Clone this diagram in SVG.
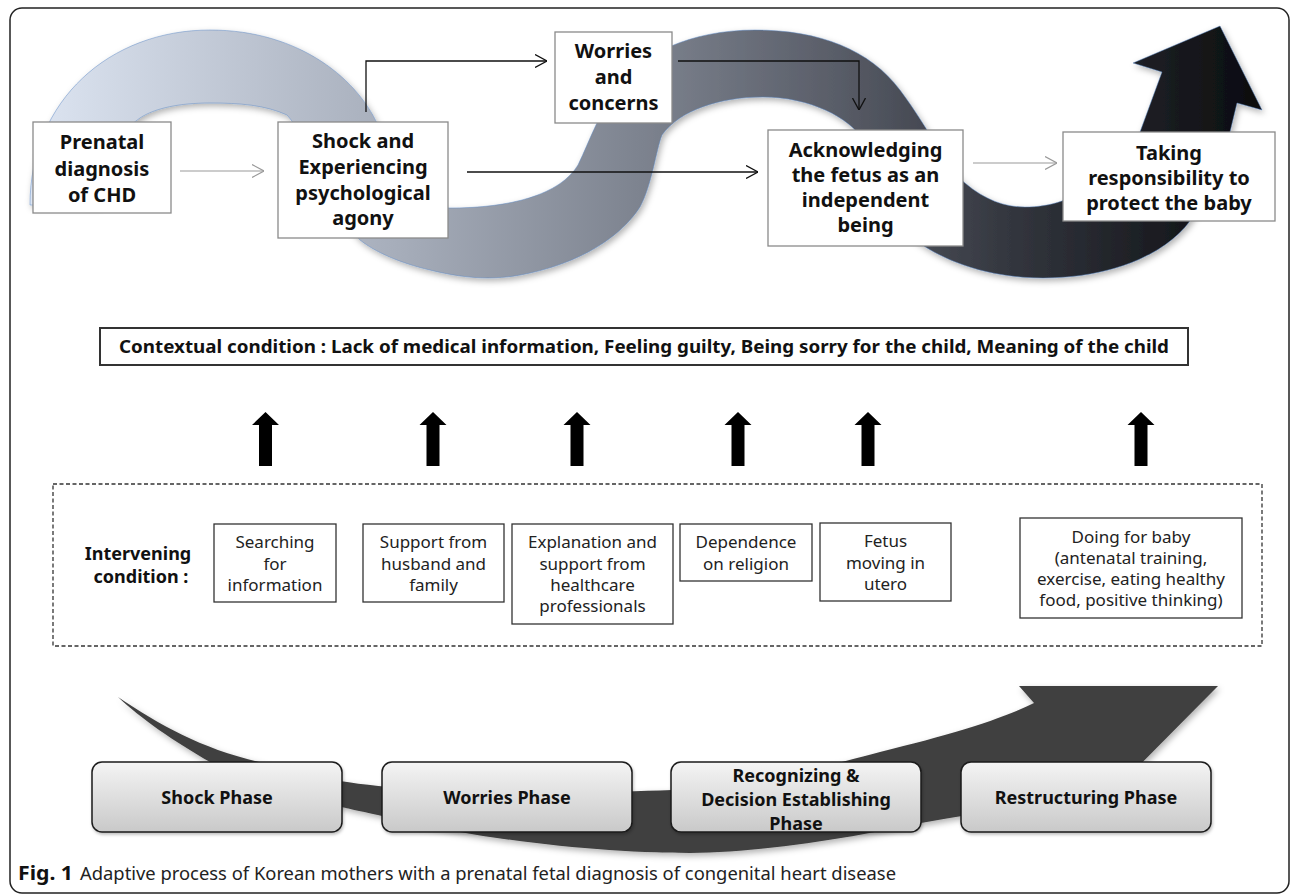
<svg xmlns="http://www.w3.org/2000/svg" width="1292" height="896" viewBox="0 0 1292 896">
<defs>
<style>
.frame{fill:#fff;stroke:#222;stroke-width:1.5}
.tbox{fill:#fff;stroke:#8a8a8a;stroke-width:1.3}
.tt{font-family:"Noto Sans","Liberation Sans",sans-serif;font-weight:bold;font-size:20px;fill:#111;text-anchor:middle}
.ibox{fill:#fff;stroke:#333;stroke-width:1.3}
.it{font-family:"Noto Sans","Liberation Sans",sans-serif;font-size:17px;fill:#222;text-anchor:middle}
.lb{font-family:"Noto Sans","Liberation Sans",sans-serif;font-weight:bold;font-size:18px;fill:#111;text-anchor:middle}
.pbox{fill:url(#pg);stroke:#1a1a1a;stroke-width:1.5}
.pt{font-family:"Noto Sans","Liberation Sans",sans-serif;font-weight:bold;font-size:18px;fill:#111;text-anchor:middle}
.blk{fill:none;stroke:#111;stroke-width:1.3}
.gry{fill:none;stroke:#9a9a9a;stroke-width:1.2}
.up{fill:#000}
</style>
<linearGradient id="rg" gradientUnits="userSpaceOnUse" x1="30" y1="0" x2="1262" y2="0">
<stop offset="0" stop-color="#dde5f2"/>
<stop offset="0.3" stop-color="#a6adba"/>
<stop offset="0.5" stop-color="#7c828e"/>
<stop offset="0.65" stop-color="#5a5e69"/>
<stop offset="0.8" stop-color="#32353d"/>
<stop offset="1" stop-color="#0a0b0e"/>
</linearGradient>
<linearGradient id="pg" x1="0" y1="0" x2="0" y2="1">
<stop offset="0" stop-color="#f4f4f4"/>
<stop offset="1" stop-color="#c9c9c9"/>
</linearGradient>
<filter id="sh" x="-5%" y="-10%" width="110%" height="130%">
<feDropShadow dx="2" dy="3" stdDeviation="3" flood-color="#000" flood-opacity="0.3"/>
</filter>
<filter id="psh" x="-5%" y="-10%" width="110%" height="130%">
<feDropShadow dx="1" dy="2" stdDeviation="1.5" flood-color="#000" flood-opacity="0.25"/>
</filter>
<marker id="ab" viewBox="0 0 12 14" refX="12" refY="7" markerWidth="12" markerHeight="14" markerUnits="userSpaceOnUse" orient="auto">
<path d="M0,0.5 L12,7 L0,13.5" fill="none" stroke="#111" stroke-width="1.3"/>
</marker>
<marker id="ag" viewBox="0 0 12 14" refX="12" refY="7" markerWidth="12" markerHeight="14" markerUnits="userSpaceOnUse" orient="auto">
<path d="M0,0.5 L12,7 L0,13.5" fill="none" stroke="#9a9a9a" stroke-width="1.2"/>
</marker>
</defs>

<rect id="frame" class="frame" x="10" y="8" width="1279" height="885" rx="12"/>

<g id="ribbon">
<path filter="url(#sh)" fill="url(#rg)" stroke="#5a86c5" stroke-width="0.8" stroke-opacity="0.6" d="M30,205 C30,100 110,30 210,30 C300,30 360,80 380,130 C400,180 420,208 450,208 C510,208 560,195 578,165 C590,140 600,110 620,85 C640,55 690,30 755,30 C820,30 870,50 900,90 C930,130 945,165 965,183 C985,200 1005,207 1025,207 C1050,207 1075,200 1095,180 C1110,170 1130,150 1140,132 L1162,72 L1133,63 L1220,26 L1262,110 L1237,103 L1230,132 C1220,170 1205,200 1190,221 C1165,255 1110,278 1043,278 C990,278 945,262 915,240 C885,215 875,165 863,140 C850,118 810,97 763,97 C720,97 680,110 662,135 C656,150 652,185 640,207 C620,238 580,262 530,273 C500,280 470,280 430,270 C400,263 375,252 360,240 C320,200 310,140 287,115 C265,105 240,103 210,103 C180,103 155,108 140,118 C115,135 100,170 100,205 Z"/>
</g>

<g id="bottom-arrow">
<path filter="url(#sh)" fill="#404040" d="M118,697 C160,725 200,748 259,762 C300,775 340,783 400,788 C500,793 600,793 672,790 C760,785 830,765 880,752 C950,735 1000,720 1034,703 L1019,686 L1218,686 L1110,795 C1040,805 980,812 921,823 C860,836 760,853 690,853 C600,853 480,840 382,816 C360,811 350,809 342,807 C280,793 240,778 210,762 C175,742 140,718 118,697 Z"/>
</g>

<g id="connectors">
<line class="gry" x1="180" y1="171" x2="264" y2="171" marker-end="url(#ag)"/>
<polyline class="blk" points="366,112 366,61 547,61" marker-end="url(#ab)"/>
<polyline class="blk" points="678,61 859,61 859,110" marker-end="url(#ab)"/>
<line class="blk" x1="467" y1="172" x2="758" y2="172" marker-end="url(#ab)"/>
<line class="gry" x1="973" y1="163" x2="1057" y2="163" marker-end="url(#ag)"/>
</g>

<g id="n-prenatal">
<rect class="tbox" x="33" y="122" width="138" height="91"/>
<text class="tt" x="102" y="149">Prenatal</text>
<text class="tt" x="102" y="176">diagnosis</text>
<text class="tt" x="102" y="202">of CHD</text>
</g>
<g id="n-shock">
<rect class="tbox" x="278" y="122" width="170" height="116"/>
<text class="tt" x="363" y="148">Shock and</text>
<text class="tt" x="363" y="174">Experiencing</text>
<text class="tt" x="363" y="200">psychological</text>
<text class="tt" x="363" y="225">agony</text>
</g>
<g id="n-worries">
<rect class="tbox" x="555" y="32" width="117" height="91"/>
<text class="tt" x="613.5" y="58">Worries</text>
<text class="tt" x="613.5" y="84">and</text>
<text class="tt" x="613.5" y="110">concerns</text>
</g>
<g id="n-ack">
<rect class="tbox" x="768" y="130" width="195" height="116"/>
<text class="tt" x="865.5" y="157">Acknowledging</text>
<text class="tt" x="865.5" y="182">the fetus as an</text>
<text class="tt" x="865.5" y="207">independent</text>
<text class="tt" x="865.5" y="232">being</text>
</g>
<g id="n-taking">
<rect class="tbox" x="1063" y="132" width="212" height="89"/>
<text class="tt" x="1169" y="160">Taking</text>
<text class="tt" x="1169" y="185">responsibility to</text>
<text class="tt" x="1169" y="210">protect the baby</text>
</g>

<g id="n-context">
<rect x="100" y="328" width="1088" height="37" fill="#fff" stroke="#333" stroke-width="2"/>
<text class="lb" x="644" y="353" font-size="17" textLength="1050" lengthAdjust="spacingAndGlyphs">Contextual condition : Lack of medical information, Feeling guilty, Being sorry for the child, Meaning of the child</text>
</g>

<g id="up-arrows">
<path class="up" d="M265.5,412 L279,425 L272,425 L272,466 L259,466 L259,425 L252,425 Z"/>
<path class="up" d="M433,412 L446.5,425 L439.5,425 L439.5,466 L426.5,466 L426.5,425 L419.5,425 Z"/>
<path class="up" d="M577,412 L590.5,425 L583.5,425 L583.5,466 L570.5,466 L570.5,425 L563.5,425 Z"/>
<path class="up" d="M738,412 L751.5,425 L744.5,425 L744.5,466 L731.5,466 L731.5,425 L724.5,425 Z"/>
<path class="up" d="M868,412 L881.5,425 L874.5,425 L874.5,466 L861.5,466 L861.5,425 L854.5,425 Z"/>
<path class="up" d="M1141,412 L1154.5,425 L1147.5,425 L1147.5,466 L1134.5,466 L1134.5,425 L1127.5,425 Z"/>
</g>

<g id="n-intervening">
<rect x="53" y="484" width="1209" height="162" fill="none" stroke="#333" stroke-width="1.3" stroke-dasharray="4 2.5"/>
<text class="lb" x="138" y="560">Intervening</text>
<text class="lb" x="141" y="583">condition :</text>
</g>
<g id="n-search">
<rect class="ibox" x="214" y="524" width="122" height="78"/>
<text class="it" x="275" y="548">Searching</text>
<text class="it" x="275" y="570">for</text>
<text class="it" x="275" y="591">information</text>
</g>
<g id="n-support">
<rect class="ibox" x="363" y="524" width="141" height="78"/>
<text class="it" x="433.5" y="548">Support from</text>
<text class="it" x="433.5" y="570">husband and</text>
<text class="it" x="433.5" y="591">family</text>
</g>
<g id="n-explain">
<rect class="ibox" x="512" y="524" width="161" height="100"/>
<text class="it" x="592.5" y="548">Explanation and</text>
<text class="it" x="592.5" y="570">support from</text>
<text class="it" x="592.5" y="591">healthcare</text>
<text class="it" x="592.5" y="612">professionals</text>
</g>
<g id="n-religion">
<rect class="ibox" x="680" y="524" width="132" height="57"/>
<text class="it" x="746" y="548">Dependence</text>
<text class="it" x="746" y="570">on religion</text>
</g>
<g id="n-fetus">
<rect class="ibox" x="820" y="523" width="131" height="78"/>
<text class="it" x="885.5" y="547">Fetus</text>
<text class="it" x="885.5" y="569">moving in</text>
<text class="it" x="885.5" y="590">utero</text>
</g>
<g id="n-doing">
<rect class="ibox" x="1020" y="518" width="222" height="100"/>
<text class="it" x="1131" y="543">Doing for baby</text>
<text class="it" x="1131" y="564">(antenatal training,</text>
<text class="it" x="1131" y="585">exercise, eating healthy</text>
<text class="it" x="1131" y="606">food, positive thinking)</text>
</g>

<g id="p-shock">
<rect class="pbox" filter="url(#psh)" x="92" y="762" width="250" height="70" rx="10"/>
<text class="pt" x="217" y="804">Shock Phase</text>
</g>
<g id="p-worries">
<rect class="pbox" filter="url(#psh)" x="382" y="762" width="250" height="70" rx="10"/>
<text class="pt" x="507" y="804">Worries Phase</text>
</g>
<g id="p-recognizing">
<rect class="pbox" filter="url(#psh)" x="671" y="762" width="250" height="70" rx="10"/>
<text class="pt" x="796" y="782">Recognizing &amp;</text>
<text class="pt" x="796" y="806">Decision Establishing</text>
<text class="pt" x="796" y="830">Phase</text>
</g>
<g id="p-restructuring">
<rect class="pbox" filter="url(#psh)" x="961" y="762" width="250" height="70" rx="10"/>
<text class="pt" x="1086" y="804">Restructuring Phase</text>
</g>

<g id="caption">
<text x="18" y="880" font-family="'Noto Sans','Liberation Sans',sans-serif" font-size="20" font-weight="bold" fill="#111" textLength="55" lengthAdjust="spacingAndGlyphs">Fig. 1</text>
<text x="80" y="880" font-family="'Noto Sans','Liberation Sans',sans-serif" font-size="18" fill="#222" textLength="816" lengthAdjust="spacingAndGlyphs">Adaptive process of Korean mothers with a prenatal fetal diagnosis of congenital heart disease</text>
</g>
</svg>
